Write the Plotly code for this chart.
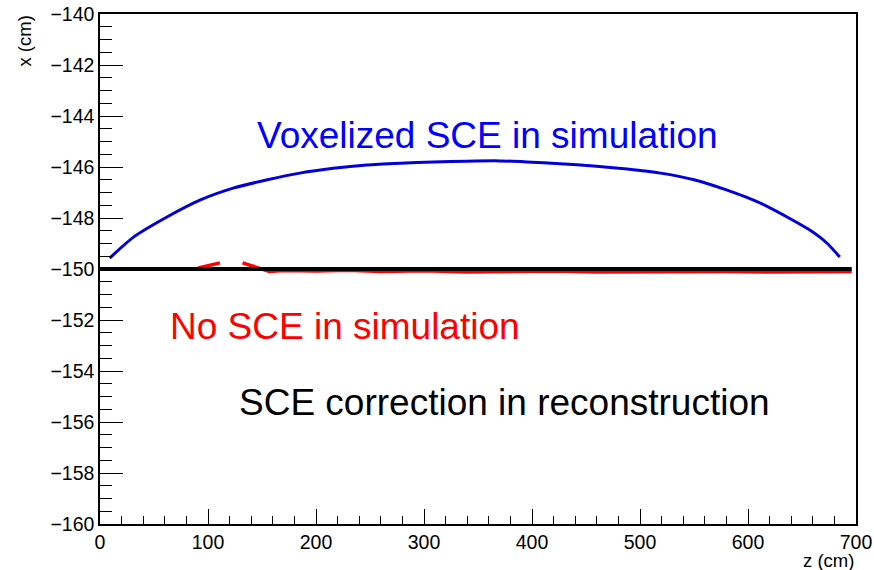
import plotly.graph_objects as go

# ---- data ----
voxel_z = [9, 31, 62, 93, 124, 154, 185, 216, 247, 278, 309, 340, 370, 395, 426, 457, 488, 519, 550, 580, 611, 642, 660, 673, 685]
voxel_x = [-149.57, -148.75, -147.96, -147.29, -146.82, -146.51, -146.24, -146.05, -145.92, -145.85,
           -145.80, -145.77, -145.76, -145.80, -145.87, -145.96, -146.08, -146.24, -146.50, -146.90,
           -147.41, -148.10, -148.55, -148.98, -149.53]

nosce_z = [91, 100, 111, None, 132, 140, 148, 157, 170, 200, 230, 260, 300, 340, 380, 420, 460, 500, 540, 580, 620, 660, 696]
nosce_x = [-149.96, -149.87, -149.76, None, -149.76, -149.86, -149.96, -150.10, -150.06, -150.08, -150.05,
           -150.10, -150.07, -150.12, -150.10, -150.08, -150.12, -150.11, -150.08, -150.10, -150.12, -150.10, -150.10]

reco_z = [0, 100, 200, 300, 400, 500, 600, 696]
reco_x = [-150.0, -150.0, -150.0, -150.0, -150.0, -150.0, -150.0, -150.0]

label_voxel = "Voxelized SCE in simulation"
label_nosce = "No SCE in simulation"
label_reco = "SCE correction in reconstruction"

FONT = "Liberation Sans, Arial, Helvetica, sans-serif"

fig = go.Figure()
fig.add_trace(go.Scatter(x=voxel_z, y=voxel_x, mode="lines", line_shape="spline",
                         line=dict(color="#0000dd", width=3, smoothing=0.6), showlegend=False))
fig.add_trace(go.Scatter(x=nosce_z, y=nosce_x, mode="lines", connectgaps=False,
                         line=dict(color="#ff0000", width=3.5), showlegend=False))
fig.add_trace(go.Scatter(x=reco_z, y=reco_x, mode="lines",
                         line=dict(color="#000000", width=4), showlegend=False))

fig.add_annotation(x=358.8, y=-144.78, xref="x", yref="y", text=label_voxel, showarrow=False,
                   font=dict(family=FONT, size=37, color="#0000ff"), xanchor="center", yanchor="middle")
fig.add_annotation(x=226.9, y=-152.24, xref="x", yref="y", text=label_nosce, showarrow=False,
                   font=dict(family=FONT, size=37, color="#ff0000"), xanchor="center", yanchor="middle")
fig.add_annotation(x=374.5, y=-155.22, xref="x", yref="y", text=label_reco, showarrow=False,
                   font=dict(family=FONT, size=37, color="#000000"), xanchor="center", yanchor="middle")

fig.add_annotation(x=1.0, y=-0.0706, xref="paper", yref="paper", text="z (cm)", showarrow=False,
                   font=dict(family=FONT, size=18.5, color="#000000"), xanchor="right", yanchor="middle")
fig.add_annotation(x=-0.1005, y=1.0, xref="paper", yref="paper", text="x (cm)", showarrow=False,
                   textangle=-90, font=dict(family=FONT, size=18.5, color="#000000"),
                   xanchor="center", yanchor="top")

fig.update_xaxes(range=[0, 700], dtick=100, tick0=0, ticks="inside", ticklen=15, tickwidth=1.2,
                 tickcolor="black", showline=True, linecolor="black", linewidth=1.5, mirror=True,
                 showgrid=False, zeroline=False, automargin=False,
                 tickfont=dict(family=FONT, size=19.5, color="black"),
                 minor=dict(dtick=20, tick0=0, ticks="inside", ticklen=8, tickwidth=1.2,
                            tickcolor="black", showgrid=False))
fig.update_yaxes(range=[-160, -140], dtick=2, tick0=-160, ticks="inside", ticklen=23, tickwidth=1.2,
                 tickcolor="black", showline=True, linecolor="black", linewidth=1.5, mirror=True,
                 showgrid=False, zeroline=False, automargin=False,
                 tickfont=dict(family=FONT, size=19.5, color="black"),
                 minor=dict(dtick=0.5, tick0=-160, ticks="inside", ticklen=12, tickwidth=1.2,
                            tickcolor="black", showgrid=False))

fig.update_layout(width=874, height=570, margin=dict(l=100, r=18, t=14, b=46),
                  plot_bgcolor="white", paper_bgcolor="white", showlegend=False)

fig.write_html("out.html", config={"displayModeBar": False},
               post_script="document.body.style.margin='0';document.body.style.overflow='hidden';")
